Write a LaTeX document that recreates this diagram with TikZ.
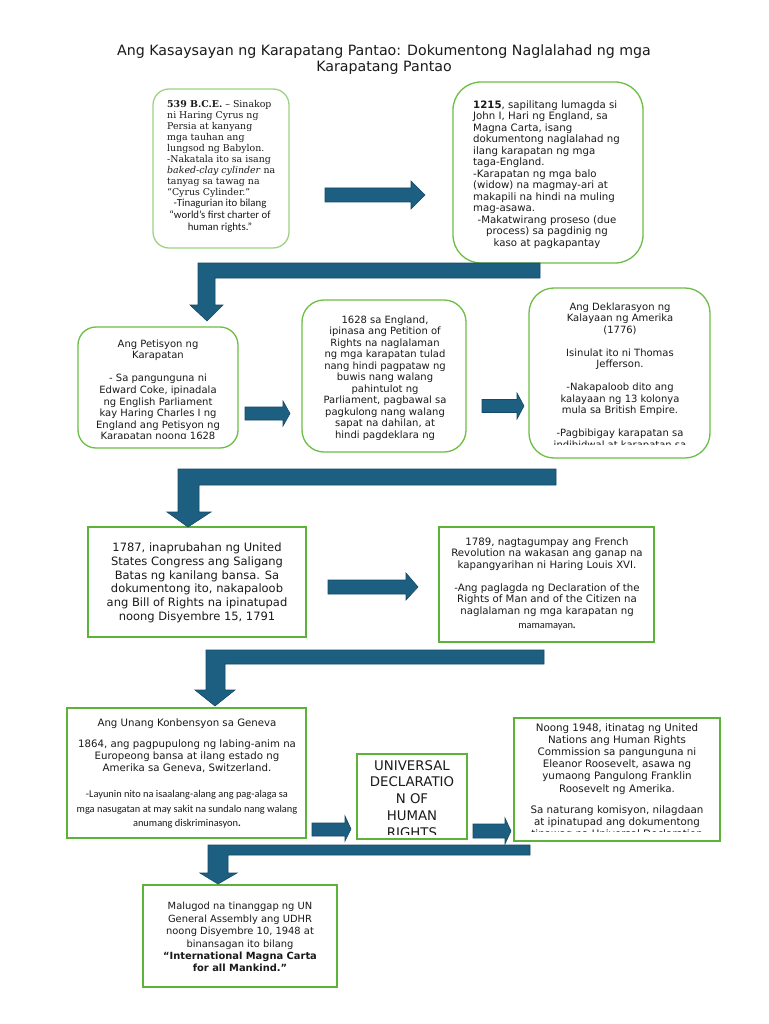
\documentclass[tikz,border=0pt]{standalone}
\usepackage{fontspec}
\setmainfont{DejaVu Sans}
\newfontfamily\cyrusfont{DejaVu Serif}
\newfontfamily\calfont{Carlito}
\definecolor{arrowfill}{HTML}{1D5F80}
\definecolor{arrowline}{HTML}{154A66}
\definecolor{greenr}{HTML}{6DBE45}
\definecolor{greenl}{HTML}{9ED283}
\definecolor{greens}{HTML}{5DB23A}
\definecolor{ink}{HTML}{1A1A1A}
\tikzset{
  flow/.style={fill=arrowfill, draw=arrowline, line width=0.6pt},
  rbox/.style={draw=greenr, line width=1.3pt, fill=white, rounded corners=#1, inner sep=0pt},
  sqbox/.style={draw=greens, line width=1.5pt, fill=white, inner sep=0pt},
  txt/.style={inner sep=0pt, align=center, text=ink}
}
\begin{document}
\begin{tikzpicture}[x=1pt,y=-1pt]
\useasboundingbox (0,0) rectangle (768,1024);
\fill[white] (0,0) rectangle (768,1024);

% title
\node[txt, anchor=north, font=\fontsize{14.2}{16}\selectfont] (title) at (384,44.2)
 {Ang Kasaysayan ng Karapatang Pantao: Dokumentong Naglalahad ng mga\\Karapatang Pantao};

% boxes
\node[rbox=16pt, draw=greenl, minimum width=136pt, minimum height=159pt] (cyrus) at (221,168.5) {};
\node[rbox=28pt, minimum width=190pt, minimum height=181pt] (magna) at (548,172.5) {};
\node[rbox=18pt, minimum width=160pt, minimum height=121pt] (petisyon) at (158,387.5) {};
\node[rbox=22pt, minimum width=164pt, minimum height=152pt] (petition) at (384,376) {};
\node[rbox=25pt, minimum width=181pt, minimum height=170pt] (dekl) at (619.5,373) {};
\node[sqbox, minimum width=218pt, minimum height=110pt] (us) at (197,582) {};
\node[sqbox, minimum width=215pt, minimum height=115pt] (french) at (546.5,584.5) {};
\node[sqbox, minimum width=239pt, minimum height=130pt] (geneva) at (186.5,773) {};
\node[sqbox, minimum width=110pt, minimum height=85pt] (udhr) at (412,796.5) {};
\node[sqbox, minimum width=206pt, minimum height=123pt] (un) at (617,779.5) {};
\node[sqbox, minimum width=194pt, minimum height=102pt] (final) at (240,936) {};

% Cyrus text
\node[txt, anchor=north west, align=left, font=\cyrusfont\fontsize{9.4}{11}\selectfont] (cyT) at (167,100.5)
 {\textbf{539 B.C.E.} – Sinakop\\ni Haring Cyrus ng\\Persia at kanyang\\mga tauhan ang\\lungsod ng Babylon.\\-Nakatala ito sa isang\\\textit{baked-clay cylinder} na\\tanyag sa tawag na\\“Cyrus Cylinder.”};
\node[txt, anchor=north, font=\calfont\fontsize{10.8}{12}\selectfont] (cyT2) at (220,199)
 {-Tinagurian ito bilang\\“world’s first charter of\\human rights.”};

% Magna Carta text
\node[txt, anchor=north west, align=left, font=\fontsize{10.2}{11.5}\selectfont] (mgT) at (473,100.1)
 {\textbf{1215}, sapilitang lumagda si\\John I, Hari ng England, sa\\Magna Carta, isang\\dokumentong naglalahad ng\\ilang karapatan ng mga\\taga-England.\\-Karapatan ng mga balo\\(widow) na magmay-ari at\\makapili na hindi na muling\\mag-asawa.};
\node[txt, anchor=north, font=\fontsize{10.2}{11.8}\selectfont] (mgT2) at (547,215.1)
 {-Makatwirang proseso (due\\process) sa pagdinig ng\\kaso at pagkapantay};

% Petisyon text
\begin{scope}
\clip (78,327) rectangle (238,438.5);
\node[txt, anchor=north, font=\fontsize{10}{11.6}\selectfont] (ptT) at (158,339.2)
 {Ang Petisyon ng\\Karapatan\\[11.6pt]- Sa pangunguna ni\\Edward Coke, ipinadala\\ng English Parliament\\kay Haring Charles I ng\\England ang Petisyon ng\\Karapatan noong 1628};
\end{scope}

% 1628 text
\begin{scope}
\clip (302,300) rectangle (466,439);
\node[txt, anchor=north, font=\fontsize{10}{11.55}\selectfont] (pnT) at (385,315.2)
 {1628 sa England,\\ipinasa ang Petition of\\Rights na naglalaman\\ng mga karapatan tulad\\nang hindi pagpataw ng\\buwis nang walang\\pahintulot ng\\Parliament, pagbawal sa\\pagkulong nang walang\\sapat na dahilan, at\\hindi pagdeklara ng};
\end{scope}

% Deklarasyon text
\begin{scope}
\clip (529,288) rectangle (710,444);
\node[txt, anchor=north, font=\fontsize{10}{11.5}\selectfont] (dkT) at (620,302.2)
 {Ang Deklarasyon ng\\Kalayaan ng Amerika\\(1776)\\[11.5pt]Isinulat ito ni Thomas\\Jefferson.\\[11.5pt]-Nakapaloob dito ang\\kalayaan ng 13 kolonya\\mula sa British Empire.\\[11.5pt]-Pagbibigay karapatan sa\\indibidwal at karapatan sa};
\end{scope}

% 1787 text
\node[txt, anchor=north, font=\fontsize{11.5}{13.8}\selectfont] (usT) at (197,542.5)
 {1787, inaprubahan ng United\\States Congress ang Saligang\\Batas ng kanilang bansa. Sa\\dokumentong ito, nakapaloob\\ang Bill of Rights na ipinatupad\\noong Disyembre 15, 1791};

% 1789 text
\node[txt, anchor=north, font=\fontsize{10.2}{11.5}\selectfont] (frT) at (547,537.1)
 {1789, nagtagumpay ang French\\Revolution na wakasan ang ganap na\\kapangyarihan ni Haring Louis XVI.\\[11.5pt]-Ang paglagda ng Declaration of the\\Rights of Man and of the Citizen na\\naglalaman ng mga karapatan ng};
\node[txt, anchor=north, font=\calfont\fontsize{10.4}{12}\selectfont] (frT2) at (547,623.2) {mamamayan\textbf{.}};

% Geneva text
\node[txt, anchor=north, font=\fontsize{10.2}{11.5}\selectfont] (gnT1) at (187,718.1) {Ang Unang Konbensyon sa Geneva};
\node[txt, anchor=north, font=\fontsize{10.2}{12.4}\selectfont] (gnT2) at (187,739.1)
 {1864, ang pagpupulong ng labing-anim na\\Europeong bansa at ilang estado ng\\Amerika sa Geneva, Switzerland.};
\node[txt, anchor=north, font=\calfont\fontsize{10.4}{14.5}\selectfont] (gnT3) at (187,790.2)
 {-Layunin nito na isaalang-alang ang pag-alaga sa\\mga nasugatan at may sakit na sundalo nang walang\\anumang diskriminasyon\textbf{.}};

% UDHR text
\begin{scope}
\clip (357,754) rectangle (467,834.5);
\node[txt, anchor=north, font=\fontsize{13.3}{16.75}\selectfont] (udT) at (412,760.1)
 {UNIVERSAL\\DECLARATIO\\N OF\\HUMAN\\RIGHTS};
\end{scope}

% UN text
\node[txt, anchor=north, font=\fontsize{10.3}{12.2}\selectfont] (unT1) at (617,723)
 {Noong 1948, itinatag ng United\\Nations ang Human Rights\\Commission sa pangunguna ni\\Eleanor Roosevelt, asawa ng\\yumaong Pangulong Franklin\\Roosevelt ng Amerika.};
\begin{scope}
\clip (514,718) rectangle (720,831);
\node[txt, anchor=north, font=\fontsize{10.3}{12.2}\selectfont] (unT2) at (617,805)
 {Sa naturang komisyon, nilagdaan\\at ipinatupad ang dokumentong\\tinawag na Universal Declaration};
\end{scope}

% final text
\node[txt, anchor=north, font=\fontsize{9.9}{12.4}\selectfont] (fnT) at (240,902.2)
 {Malugod na tinanggap ng UN\\General Assembly ang UDHR\\noong Disyembre 10, 1948 at\\binansagan ito bilang\\\textbf{“International Magna Carta}\\\textbf{for all Mankind.”}};

% straight block arrows
\draw[flow] (325,188) -- (411,188) -- (411,181) -- (425,195) -- (411,209) -- (411,202) -- (325,202) -- cycle;
\draw[flow] (245,407) -- (283,407) -- (283,401) -- (290,413.5) -- (283,426) -- (283,420) -- (245,420) -- cycle;
\draw[flow] (482,399.5) -- (517,399.5) -- (517,393) -- (524,406) -- (517,419) -- (517,412.5) -- (482,412.5) -- cycle;
\draw[flow] (328,580) -- (406,580) -- (406,573) -- (418,587) -- (406,600) -- (406,594) -- (328,594) -- cycle;
\draw[flow] (312,823) -- (345,823) -- (345,816) -- (351,829) -- (345,841) -- (345,836) -- (312,836) -- cycle;
\draw[flow] (473,824) -- (505,824) -- (505,818) -- (511,831) -- (505,844) -- (505,838) -- (473,838) -- cycle;

% elbow arrows
\draw[flow] (540,263) -- (198,263) -- (198,305) -- (190,305) -- (207,321) -- (223,305) -- (215,305) -- (215,278) -- (540,278) -- cycle;
\draw[flow] (556,469) -- (178,469) -- (178,512) -- (167,512) -- (188,527) -- (211,512) -- (199,512) -- (199,485) -- (556,485) -- cycle;
\draw[flow] (544,650) -- (206,650) -- (206,690) -- (195,690) -- (215,706) -- (235,690) -- (225,690) -- (225,664) -- (544,664) -- cycle;
\draw[flow] (530,845) -- (208,845) -- (208,873) -- (200,873) -- (218,884) -- (237,873) -- (228,873) -- (228,855) -- (530,855) -- cycle;
\end{tikzpicture}
\end{document}
